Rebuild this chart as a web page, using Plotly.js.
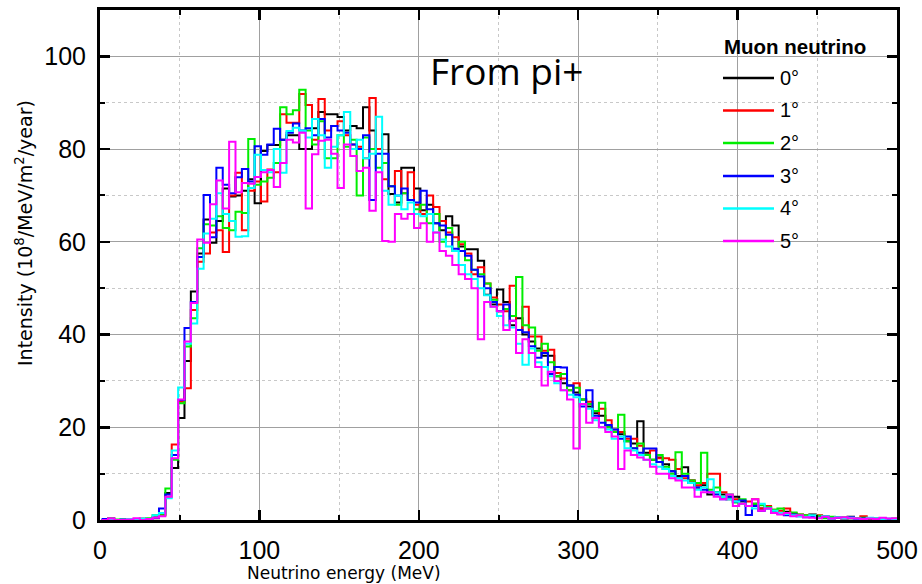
<!DOCTYPE html>
<html><head><meta charset="utf-8">
<script src="https://cdn.plot.ly/plotly-3.0.1.min.js"></script>
<style>html,body{margin:0;padding:0;background:#fff}</style>
</head><body><div id="chart" style="width:922px;height:584px"></div>
<script>
// Energy bins: 125 bins, 4 MeV wide, lower edges 1,5,9,...,497 MeV
const BIN_WIDTH = 4;
const binLowEdges = Array.from({length:125}, (_, i) => 1 + BIN_WIDTH * i);

const seriesNames = ['0°','1°','2°','3°','4°','5°'];
const seriesColors = ['#000000','#ff0000','#00ee00','#0000ff','#00ffff','#ff00ff'];

const deg0 = [
 0,0.3,0,0,0.1,0.2,0.1,0.2,0.4,1.4,
 5.8,11.2,22.0,34.3,49.3,57.5,64.8,59.8,64.5,71.5,
 69.8,70.0,71.0,73.5,68.3,79.6,80.9,80.9,82.0,83.0,
 83.0,80.0,80.0,84.5,88.0,87.5,87.5,86.9,84.0,85.0,
 84.5,89.0,84.0,80.0,83.2,70.3,68.5,76.0,76.0,71.5,
 66.8,68.0,64.0,62.5,65.5,63.5,59.0,58.4,58.4,55.9,
 48.6,46.5,49.7,47.0,42.0,43.5,40.0,38.5,37.0,35.4,
 35.4,31.0,29.5,29.0,27.5,26.0,24.5,23.0,22.5,20.0,
 19.0,18.5,17.0,16.5,21.3,14.5,13.0,13.5,12.0,10.5,
 9.5,11.4,8.5,7.0,7.5,5.5,6.0,5.5,4.5,5.0,
 4.0,3.0,3.5,2.5,2.8,2.0,1.5,1.8,1.2,1.0,
 0.9,1.2,0.6,0.8,0.5,0.6,0.4,0.7,0.3,0.3,0.4,0.2,0.2,0.2,0.1];
const deg1 = [
 0,0.1,0,0.2,0,0.1,0.3,0.2,0.6,1.0,
 5.0,16.3,25.5,28.4,45.3,55.7,57.5,62.0,62.5,57.8,
 70.0,74.9,62.5,71.0,73.0,68.7,75.6,75.0,87.5,85.7,
 85.7,91.9,89.5,82.0,90.8,84.0,85.0,86.0,83.0,81.0,
 80.5,78.0,91.0,80.0,73.5,72.0,75.3,70.5,75.0,68.0,
 66.0,70.0,67.5,64.5,62.0,61.0,59.5,57.5,53.0,54.5,
 51.0,48.0,46.5,45.0,50.5,41.0,46.0,39.6,39.6,36.5,
 36.7,31.7,30.5,28.0,29.5,25.0,25.5,22.0,24.0,21.5,
 19.5,19.0,17.5,17.5,16.0,14.0,15.0,13.3,13.3,13.0,
 11.0,9.0,8.5,7.5,8.0,10.0,10.0,6.0,5.0,4.5,
 3.5,4.0,4.5,2.5,3.0,2.2,2.0,2.5,1.5,1.2,
 1.0,0.8,1.0,0.5,0.4,0.5,0.3,0.6,0.3,0.8,0.2,0.4,0.1,0.2,0.1];
const deg2 = [
 0,0,0.1,0,0.2,0,0.1,0.4,1.0,1.0,
 6.8,13.0,25.2,37.4,43.5,58.6,63.8,63.5,65.5,63.0,
 62.5,66.5,66.2,82.2,72.3,73.0,73.8,77.0,89.0,87.5,
 88.4,92.8,84.0,81.0,86.0,78.0,78.0,83.0,80.5,82.0,
 70.0,82.5,80.0,76.0,77.0,72.0,68.0,70.5,69.0,67.0,
 68.0,64.0,66.0,60.0,63.0,58.0,60.0,56.0,54.0,53.0,
 51.0,47.5,45.0,45.5,44.0,52.4,42.0,41.5,36.5,38.0,
 34.0,31.0,31.5,28.0,28.5,26.0,25.0,23.5,25.3,20.0,
 19.0,22.7,17.0,15.5,16.5,14.0,13.0,14.0,11.5,10.0,
 14.6,10.0,8.5,8.0,14.5,6.5,7.0,5.0,5.5,3.8,
 4.5,3.0,3.5,3.2,2.8,2.2,2.5,1.5,1.6,1.2,
 1.0,0.8,0.9,0.4,0.7,0.5,0.6,0.3,0.2,0.5,0.3,0.2,0.4,0.1,0.3];
const deg3 = [
 0.2,0,0,0.1,0,0.2,0.2,0.1,0.5,2.5,
 5.5,14.0,25.9,41.4,47.0,56.7,70.1,61.0,76.0,72.3,
 70.5,73.9,75.7,73.0,80.6,78.8,81.0,84.4,82.0,83.5,
 85.5,84.0,84.5,83.0,86.5,82.5,85.0,84.0,83.5,81.0,
 80.0,83.0,69.0,79.0,79.0,72.0,70.0,71.5,69.0,68.5,
 71.0,67.0,64.0,63.5,61.5,58.5,58.0,57.0,54.0,52.5,
 50.0,47.0,45.0,46.5,43.0,41.0,40.5,37.5,35.0,36.0,
 31.5,33.0,32.9,29.0,27.0,24.5,28.0,22.5,21.0,20.5,
 19.5,17.5,18.0,15.5,14.5,15.4,15.4,12.5,11.0,10.5,
 9.0,9.5,8.0,7.0,6.5,6.0,5.5,4.5,5.0,4.0,
 4.2,1.1,3.0,2.0,2.5,1.5,1.3,1.0,1.2,0.8,
 0.6,0.8,0.5,0.7,0.3,0.5,0.4,0.6,0.2,0.3,0.4,0.1,0.3,0.2,0.1];
const deg4 = [
 0,0.2,0,0.1,0.2,0,0.3,0.2,1.0,1.5,
 4.7,15.0,28.6,38.0,42.4,54.2,61.8,65.0,70.5,66.0,
 64.5,61.1,61.2,71.6,78.8,75.5,75.0,80.0,74.9,83.9,
 84.6,84.0,82.5,86.5,83.0,76.0,80.5,83.0,88.0,80.0,
 82.0,78.0,79.0,87.0,71.0,68.0,70.0,67.0,68.5,66.0,
 65.5,66.0,62.0,60.5,59.0,58.0,55.0,53.0,52.0,50.0,
 48.5,46.0,44.0,42.0,41.5,38.0,33.5,37.0,34.0,33.0,
 31.0,29.5,28.0,27.0,26.5,25.0,24.0,21.5,20.0,19.5,
 17.5,18.0,15.5,15.0,14.0,13.0,12.0,11.5,11.0,9.5,
 9.0,8.5,8.0,6.5,7.0,8.8,6.0,5.0,4.5,4.0,
 3.5,3.0,2.5,3.5,2.5,2.0,1.5,1.3,1.0,0.8,
 0.7,1.0,0.5,0.8,0.3,0.6,0.4,0.5,0.3,0.2,0.5,0.4,0.2,0.3,0.1];
const deg5 = [
 0,0.3,0,0,0.1,0.4,0,0.2,0.5,0.8,
 5.0,13.3,26.0,38.5,46.8,60.5,59.8,68.1,73.2,67.2,
 81.6,70.7,72.7,72.5,74.0,75.0,75.5,71.8,77.0,82.0,
 81.4,83.5,67.2,78.9,81.8,82.0,79.0,71.6,81.0,78.5,
 75.3,76.0,66.7,75.0,60.2,60.0,66.0,65.0,66.0,63.0,
 64.0,60.0,62.0,58.0,57.0,55.0,53.0,52.0,50.0,39.0,
 47.0,46.0,45.0,41.0,43.0,36.0,39.0,36.0,33.0,29.0,
 32.0,30.0,28.0,26.0,15.4,25.0,21.0,22.0,20.0,19.0,
 18.0,11.0,15.0,14.0,13.5,13.0,11.5,10.0,10.0,9.0,
 8.5,7.0,7.0,5.0,6.0,6.0,5.0,4.5,5.5,3.0,
 3.5,3.0,4.5,2.0,2.5,1.5,1.2,1.5,0.8,1.0,
 0.6,0.5,0.4,0.7,0.3,0.5,0.6,0.4,0.3,0.2,0.3,0.2,0.5,0.3,0.4];
const seriesValues = [deg0, deg1, deg2, deg3, deg4, deg5];

const xTickVals = [0,100,200,300,400,500];
const yTickVals = [0,20,40,60,80,100];
const legendTitle = 'Muon neutrino';
const annotationText = 'From pi+';
const xTitle = 'Neutrino energy (MeV)';
const yTitle = 'Intensity (10<sup>8</sup>/MeV/m<sup>2</sup>/year)';

// step-histogram traces
const xEdges = binLowEdges.concat([binLowEdges[binLowEdges.length-1] + BIN_WIDTH]);
const traces = seriesValues.map((vals, i) => ({
  type: 'scatter', mode: 'lines',
  x: xEdges,
  y: vals.concat([vals[vals.length-1]]),
  line: {shape: 'hv', color: seriesColors[i], width: 2},
  name: seriesNames[i], showlegend: false, hoverinfo: 'skip'
}));

// pixel -> paper helpers for a 922x584 canvas with plot area 100..897 x 10..520
const L = 100, R = 25, T = 10, B = 64, W = 922, H = 584;
const pw = W - L - R, ph = H - T - B;
const px = x => (x - L) / pw;
const py = y => (H - B - y) / ph;

const fontFam = '"Liberation Sans", Arial, sans-serif';
const titleFam = '"DejaVu Sans", Verdana, sans-serif';
const shapes = [
  {type:'rect', xref:'paper', yref:'paper', x0:px(710), x1:px(878), y0:py(267), y1:py(11),
   fillcolor:'#ffffff', line:{width:0}, layer:'between'}
];
const annotations = [
  {xref:'paper', yref:'paper', x:px(428), y:py(70), xanchor:'left', yanchor:'middle',
   text: annotationText, showarrow:false, font:{family:'"Open Sans", sans-serif', size:37, color:'#000'}},
  {xref:'paper', yref:'paper', x:px(722), y:py(47), xanchor:'left', yanchor:'middle',
   text: '<b>'+legendTitle+'</b>', showarrow:false, font:{family:fontFam, size:20.5, color:'#000'}},
  {xref:'paper', yref:'paper', x:px(344), y:py(573), xanchor:'center', yanchor:'middle',
   text: xTitle, showarrow:false, font:{family:titleFam, size:17, color:'#000'}},
  {xref:'paper', yref:'paper', x:px(24), y:py(233), xanchor:'center', yanchor:'middle', textangle:-90,
   text: yTitle, showarrow:false, font:{family:titleFam, size:19, color:'#000'}}
];
const rowY = [78, 110.5, 143, 176, 208.5, 241];
seriesNames.forEach((nm, i) => {
  shapes.push({type:'line', xref:'paper', yref:'paper', x0:px(723), x1:px(774), y0:py(rowY[i]), y1:py(rowY[i]),
    line:{color:seriesColors[i], width:2.5}, layer:'above'});
  annotations.push({xref:'paper', yref:'paper', x:px(778), y:py(rowY[i]), xanchor:'left', yanchor:'middle',
    text: nm, showarrow:false, font:{family:fontFam, size:20, color:'#000'}});
});

const axisCommon = {
  showline:true, linecolor:'#000', linewidth:3, mirror:'ticks',
  ticks:'inside', ticklen:10, tickwidth:2.5, tickcolor:'#000',
  showgrid:true, gridcolor:'#a0a0a0', gridwidth:1, zeroline:false,
  tickfont:{family:fontFam, size:25, color:'#000'},
  ticklabelstandoff: 6
};
const layout = {
  width:W, height:H, margin:{l:L, r:R, t:T, b:B},
  paper_bgcolor:'#fff', plot_bgcolor:'#fff', showlegend:false,
  xaxis: Object.assign({}, axisCommon, {range:[0,500], tickvals:xTickVals, ticktext:xTickVals.map(String),
    minor:{dtick:50, tick0:0, ticks:'inside', ticklen:5, tickwidth:2, tickcolor:'#000', showgrid:true, gridcolor:'#c8c8c8', griddash:'dot', gridwidth:1}}),
  yaxis: Object.assign({}, axisCommon, {range:[0,110], tickvals:yTickVals, ticktext:yTickVals.map(String),
    minor:{dtick:10, tick0:0, ticks:'inside', ticklen:5, tickwidth:2, tickcolor:'#000', showgrid:true, gridcolor:'#c8c8c8', griddash:'dot', gridwidth:1}}),
  shapes, annotations
};
Plotly.newPlot('chart', traces, layout, {displayModeBar:false, staticPlot:true});
</script></body></html>
